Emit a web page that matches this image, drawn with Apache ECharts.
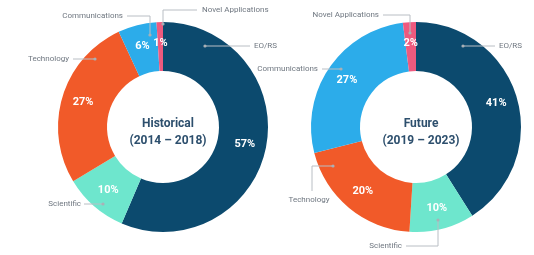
<!DOCTYPE html>
<html>
<head>
<meta charset="utf-8">
<script src="https://cdn.jsdelivr.net/npm/echarts@6/dist/echarts.min.js"></script>
<style>
html,body{margin:0;padding:0;background:#fff}
#main{width:534px;height:255px}
</style>
</head>
<body>
<div id="main"></div>
<script>
// data
var categories = ['EO/RS', 'Scientific', 'Technology', 'Communications', 'Novel Applications'];
var historical = [57, 10, 27, 6, 1];
var future = [41, 10, 20, 27, 2];
var periods = ['Historical\n(2014 – 2018)', 'Future\n(2019 – 2023)'];

var colors = ['#0c4a6e', '#6ee6cd', '#f15a29', '#2cacea', '#ee5a7e'];
var lineColor = '#b9bec4';
var textGray = '#6f7780';

// where each outside name label sits, and its leader line (dot first)
var leftLayout = [
    {x: 254, y: 46, align: 'left',  line: [[205, 46], [250, 46]]},
    {x: 81,  y: 204, align: 'right', line: [[103, 204], [84, 204]]},
    {x: 69,  y: 59, align: 'right', line: [[95, 59], [73, 59]]},
    {x: 123, y: 16, align: 'right', line: [[150, 35], [150, 16], [127, 16]]},
    {x: 202, y: 10, align: 'left',  line: [[163, 24], [163, 10], [197, 10]]}
];
var rightLayout = [
    {x: 499, y: 46, align: 'left',  line: [[463, 46], [495, 46]]},
    {x: 402, y: 246, align: 'right', line: [[438, 220], [438, 246], [406, 246]]},
    {x: 309, y: 200, align: 'center', line: [[333, 166], [312, 166], [312, 191]]},
    {x: 318, y: 69, align: 'right', line: [[341, 69], [322, 69]]},
    {x: 379, y: 15, align: 'right', line: [[410, 33], [410, 15], [383, 15]]}
];

var centers = [[163, 127], [416, 127]];

function pieData(vals){
    return categories.map(function(c, i){
        return {name: c, value: vals[i], itemStyle: {color: colors[i]}};
    });
}

function mainPie(vals, center){
    return {
        type: 'pie',
        center: center,
        radius: [56, 105],
        startAngle: 90,
        avoidLabelOverlap: false,
        silent: true,
        itemStyle: {borderWidth: 0},
        label: {
            show: true,
            position: 'inside',
            formatter: '{c}%',
            color: '#fff',
            fontFamily: 'Roboto',
            fontWeight: 'bold',
            fontSize: 11
        },
        labelLine: {show: false},
        data: pieData(vals)
    };
}

function namePie(vals, center, layout){
    return {
        type: 'pie',
        center: center,
        radius: [56, 105],
        startAngle: 90,
        avoidLabelOverlap: false,
        silent: true,
        z: 5,
        itemStyle: {color: 'rgba(0,0,0,0)'},
        label: {
            show: true,
            position: 'outside',
            formatter: '{b}',
            color: textGray,
            fontFamily: 'Roboto',
            fontSize: 8
        },
        labelLine: {show: true, lineStyle: {color: lineColor, width: 1}},
        labelLayout: function(p){
            var L = layout[p.dataIndex];
            return {
                x: L.x, y: L.y,
                align: L.align,
                verticalAlign: 'middle',
                labelLinePoints: L.line
            };
        },
        data: categories.map(function(c, i){ return {name: c, value: vals[i]}; })
    };
}

var dots = leftLayout.concat(rightLayout).map(function(L){
    return {
        type: 'circle',
        shape: {cx: L.line[0][0], cy: L.line[0][1], r: 1.6},
        style: {fill: '#a9b0b6'},
        z: 10
    };
});

var myChart = echarts.init(document.getElementById('main'));
var option = {
    backgroundColor: '#fff',
    animation: false,
    title: centers.map(function(c, i){
        return {
            text: periods[i],
            left: c[0],
            top: c[1] - 17,
            textAlign: 'center',
            textStyle: {
                fontFamily: 'Roboto',
                fontWeight: 'bold',
                fontSize: 12,
                lineHeight: 17,
                color: '#2d4f6d'
            }
        };
    }),
    graphic: dots,
    series: [
        mainPie(historical, centers[0]),
        namePie(historical, centers[0], leftLayout),
        mainPie(future, centers[1]),
        namePie(future, centers[1], rightLayout)
    ]
};
myChart.setOption(option);
</script>
</body>
</html>
